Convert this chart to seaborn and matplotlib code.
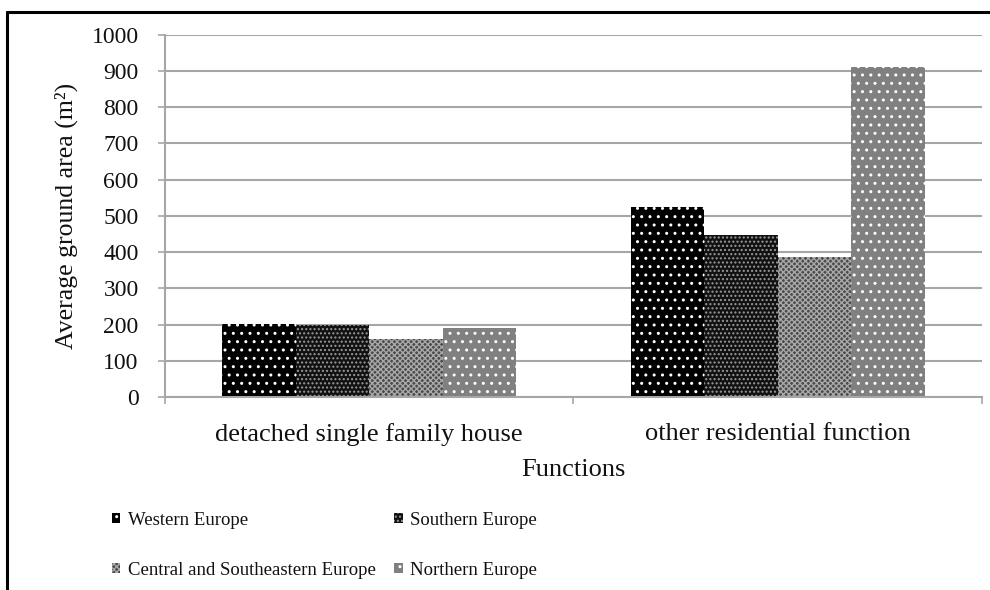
import matplotlib
matplotlib.use("Agg")
import matplotlib.pyplot as plt
from matplotlib.patches import Patch
from matplotlib.lines import Line2D
import seaborn as sns
import pandas as pd

# Average ground area per building function and European region (m2)
functions = ["detached single family house", "other residential function"]
regions = ["Western Europe", "Southern Europe",
           "Central and Southeastern Europe", "Northern Europe"]
western = [203, 525]
southern = [198, 448]
central = [160, 386]
northern = [190, 911]
yticks = [0, 100, 200, 300, 400, 500, 600, 700, 800, 900, 1000]

values = [western, southern, central, northern]
df = pd.DataFrame(
    [(f, r, v[i]) for r, v in zip(regions, values) for i, f in enumerate(functions)],
    columns=["function", "region", "area"],
)

sns.set_style("white")
plt.rcParams["font.family"] = ["Liberation Serif", "DejaVu Serif"]
plt.rcParams["hatch.linewidth"] = 1.0

# fill, hatch colour, hatch pattern for each region
styles = [
    ("#000000", "#ffffff", ".."),
    ("#111111", "#9a9a9a", "...."),
    ("#4a4a4a", "#a8a8a8", "xxxxxx"),
    ("#808080", "#ffffff", ".."),
]

text_c = "#111111"
fig = plt.figure(figsize=(9.9, 5.9), dpi=100)
ax = fig.add_axes([0.1667, 0.327, 0.825, 0.614])

sns.barplot(data=df, x="function", y="area", hue="region", order=functions,
            hue_order=regions, width=0.72, gap=0, ax=ax, legend=False,
            errorbar=None)

for cont, (fc, hc, hatch) in zip(ax.containers, styles):
    for bar in cont:
        bar.set_facecolor(fc)
        bar.set_edgecolor(hc)
        bar.set_hatch(hatch)
        bar.set_linewidth(0)

grid_c = "#a6a6a6"
ax.set_ylim(0, 1000)
ax.set_xlim(-0.5, 1.5)
ax.set_yticks(yticks)
ax.yaxis.grid(True, color=grid_c, linewidth=1.5)
ax.set_axisbelow(True)
for s in ["top", "right"]:
    ax.spines[s].set_visible(False)
for s in ["left", "bottom"]:
    ax.spines[s].set_color(grid_c)
    ax.spines[s].set_linewidth(1.5)

ax.tick_params(axis="y", which="major", length=5, width=1.2, color=grid_c,
               pad=14, labelsize=17, labelcolor=text_c, left=True)
ax.set_xticks([0, 1])
ax.set_xticks([-0.5, 0.5, 1.5], minor=True)
ax.tick_params(axis="x", which="major", length=0, pad=19, labelsize=19,
               labelcolor=text_c)
ax.tick_params(axis="x", which="minor", length=5, width=1.2, color=grid_c,
               bottom=True)

ax.set_xlabel("Functions", fontsize=19, color=text_c, labelpad=9)
ax.set_ylabel("Average ground area (m²)", fontsize=18.5, color=text_c,
              labelpad=10)

# legend laid out row by row: Western, Southern / Central, Northern
order = [0, 2, 1, 3]
handles = [Patch(facecolor=styles[i][0], edgecolor=styles[i][1],
                 hatch=styles[i][2], linewidth=0) for i in order]
labels = [regions[i] for i in order]
fig.legend(handles, labels, loc="upper left", bbox_to_anchor=(0.113, 0.132),
           ncol=2, frameon=False, fontsize=13.5, handlelength=0.45,
           handleheight=0.45, handletextpad=0.4, columnspacing=1.0,
           labelspacing=1.75, borderpad=0, borderaxespad=0,
           labelcolor=text_c)

# outer frame lines along the top and left edges
fig.add_artist(Line2D([0.007, 1.0], [0.98, 0.98], color="black", linewidth=2.2,
                      transform=fig.transFigure))
fig.add_artist(Line2D([0.007, 0.007], [0.0, 0.98], color="black", linewidth=2.2,
                      transform=fig.transFigure))

fig.savefig("out.png", dpi=100)
